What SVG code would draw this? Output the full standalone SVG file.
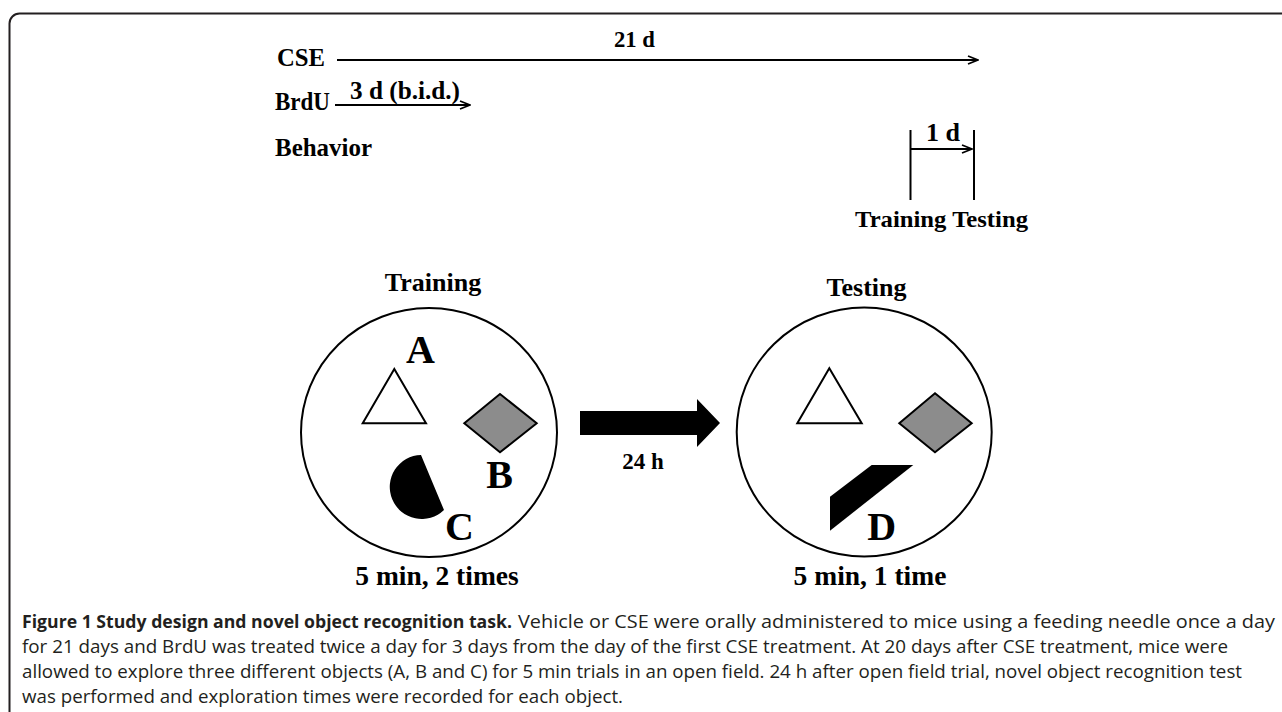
<svg xmlns="http://www.w3.org/2000/svg" width="1282" height="712" viewBox="0 0 1282 712">
<defs>
<style>
.t{font-family:"Liberation Serif","Times New Roman",serif;font-weight:bold;fill:#000}
.cap{font-family:"Open Sans","Liberation Sans",sans-serif;font-size:18.5px;fill:#231f20}
.ln{stroke:#000;stroke-width:2;fill:none}
.ring{stroke:#000;stroke-width:2;fill:#fff}
.tri{stroke:#000;stroke-width:2;fill:#fff}
.dia{stroke:#000;stroke-width:2;fill:#8c8c8c}
</style>
<marker id="ah" viewBox="0 0 12 10" refX="11" refY="5" markerWidth="12" markerHeight="10" markerUnits="userSpaceOnUse" orient="auto">
<path d="M1,1 L11,5 L1,9" fill="none" stroke="#000" stroke-width="1.8"/>
</marker>
</defs>
<rect width="1282" height="712" fill="#fff"/>
<path d="M9.5,712 V23.5 A10,10 0 0 1 19.5,13.5 H1282" fill="none" stroke="#231f20" stroke-width="2"/>

<g id="timeline-labels">
<text class="t" x="277" y="66" font-size="25" textLength="48" lengthAdjust="spacingAndGlyphs">CSE</text>
<text class="t" x="275" y="110" font-size="25" textLength="55" lengthAdjust="spacingAndGlyphs">BrdU</text>
<text class="t" x="275" y="156" font-size="25" textLength="97" lengthAdjust="spacingAndGlyphs">Behavior</text>
<text class="t" x="614" y="47" font-size="23" textLength="41" lengthAdjust="spacingAndGlyphs">21 d</text>
<text class="t" x="350" y="99" font-size="25" textLength="110" lengthAdjust="spacingAndGlyphs">3 d (b.i.d.)</text>
<text class="t" x="926" y="141" font-size="26" textLength="34" lengthAdjust="spacingAndGlyphs">1 d</text>
<text class="t" x="855" y="227" font-size="24" textLength="173" lengthAdjust="spacingAndGlyphs">Training Testing</text>
</g>

<g id="connectors">
<line class="ln" x1="337" y1="60" x2="978" y2="60" marker-end="url(#ah)"/>
<line class="ln" x1="335" y1="105" x2="470" y2="105" marker-end="url(#ah)"/>
<line class="ln" x1="910.5" y1="130" x2="910.5" y2="200"/>
<line class="ln" x1="974" y1="130" x2="974" y2="200"/>
<line class="ln" x1="911" y1="149" x2="972" y2="149" marker-end="url(#ah)"/>
<polygon points="580,411 697,411 697,399 720,423 697,447 697,435 580,435" fill="#000"/>
</g>

<g id="training">
<text class="t" x="433" y="291" font-size="26" text-anchor="middle">Training</text>
<ellipse class="ring" cx="429" cy="432.5" rx="128" ry="124.5"/>
<polygon class="tri" points="394.3,369 362.7,423.3 426,423.3"/>
<text class="t" x="420.5" y="363" font-size="40" text-anchor="middle">A</text>
<polygon class="dia" points="500,394 536.7,423.3 500,452.3 464.3,423.3"/>
<text class="t" x="499.5" y="488" font-size="40" text-anchor="middle">B</text>
<path d="M421,455 A32,32 0 1 0 444,510 Z" fill="#000"/>
<text class="t" x="459.5" y="540" font-size="40" text-anchor="middle">C</text>
<text class="t" x="437" y="585" font-size="27.5" text-anchor="middle">5 min, 2 times</text>
</g>

<g id="delay">
<text class="t" x="643" y="469" font-size="23" text-anchor="middle">24 h</text>
</g>

<g id="testing">
<text class="t" x="866.5" y="296" font-size="26" text-anchor="middle">Testing</text>
<ellipse class="ring" cx="864.2" cy="432" rx="127.5" ry="124.5"/>
<polygon class="tri" points="829.3,368.3 797.3,423.3 861.7,423.3"/>
<polygon class="dia" points="935,393.3 971.7,423.3 935,452.3 899.3,423.3"/>
<polygon points="871.7,465 913.3,465 830,530.7 830,496.7" fill="#000"/>
<text class="t" x="881.7" y="540" font-size="40" text-anchor="middle">D</text>
<text class="t" x="870" y="585" font-size="27.5" text-anchor="middle">5 min, 1 time</text>
</g>

<g id="caption">
<text class="cap" x="22" y="628" font-weight="bold" textLength="490" lengthAdjust="spacingAndGlyphs">Figure 1 Study design and novel object recognition task.</text>
<text class="cap" x="518" y="628" textLength="757" lengthAdjust="spacingAndGlyphs">Vehicle or CSE were orally administered to mice using a feeding needle once a day</text>
<text class="cap" x="22" y="653" textLength="1206" lengthAdjust="spacingAndGlyphs">for 21 days and BrdU was treated twice a day for 3 days from the day of the first CSE treatment. At 20 days after CSE treatment, mice were</text>
<text class="cap" x="22" y="678" textLength="1220" lengthAdjust="spacingAndGlyphs">allowed to explore three different objects (A, B and C) for 5 min trials in an open field. 24 h after open field trial, novel object recognition test</text>
<text class="cap" x="22" y="703" textLength="601" lengthAdjust="spacingAndGlyphs">was performed and exploration times were recorded for each object.</text>
</g>
</svg>
